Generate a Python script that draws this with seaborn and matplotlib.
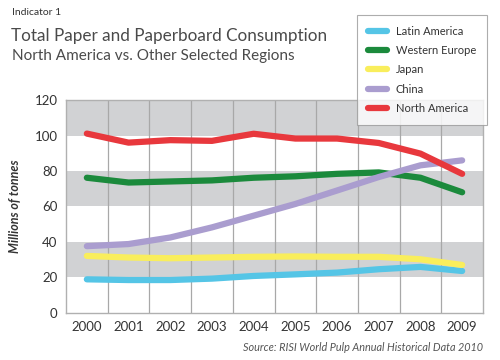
import pandas as pd
import numpy as np
import matplotlib
matplotlib.use("Agg")
import matplotlib.pyplot as plt
import seaborn as sns

years = [2000, 2001, 2002, 2003, 2004, 2005, 2006, 2007, 2008, 2009]
latin_america = [18.9, 18.5, 18.5, 19.3, 20.8, 21.7, 22.7, 24.6, 25.9, 23.6]
western_europe = [76.2, 73.5, 74.1, 74.7, 76.2, 77.0, 78.4, 79.2, 76.2, 68.0]
japan = [32.1, 31.2, 30.8, 31.2, 31.6, 31.8, 31.6, 31.6, 30.2, 27.0]
china = [37.6, 38.8, 42.5, 48.2, 54.8, 61.4, 69.0, 76.6, 83.2, 86.0]
north_america = [101.1, 96.0, 97.4, 97.0, 101.0, 98.3, 98.3, 95.8, 89.8, 78.4]

regions = ["Latin America", "Western Europe", "Japan", "China", "North America"]
colors = ["#55c5e6", "#1b8a3c", "#f9ee5c", "#aa9dcf", "#e8383d"]
yticks = [0, 20, 40, 60, 80, 100, 120]

df = pd.DataFrame({"Year": years, "Latin America": latin_america,
                   "Western Europe": western_europe, "Japan": japan,
                   "China": china, "North America": north_america})
long_df = df.melt(id_vars="Year", var_name="Region", value_name="Value")

sns.set_style("white")
plt.rcParams["font.family"] = ["Lato", "DejaVu Sans"]
txt = "#4a4a4a"

fig = plt.figure(figsize=(5, 3.6), dpi=100)
ax = fig.add_axes([0.132, 0.131, 0.834, 0.591])

# grey bands
for lo in [20, 60, 100]:
    ax.axhspan(lo, lo + 20, color="#d1d2d4", zorder=0, lw=0)
for k in range(1, 10):
    ax.axvline(years[0] - 0.5 + k, color="#a8a8a8", lw=0.9, zorder=1)

sns.lineplot(data=long_df, x="Year", y="Value", hue="Region", hue_order=regions,
             palette=colors, lw=4.5, ax=ax, zorder=3, solid_capstyle="round")

ax.set_xlim(years[0] - 0.5, years[-1] + 0.5)
ax.set_ylim(0, 120)
ax.set_xticks(years)
ax.set_yticks(yticks)
ax.tick_params(axis="both", length=0, labelsize=9.5, labelcolor="#333333", pad=6)
for s in ax.spines.values():
    s.set_color("#b0b0b0")
    s.set_linewidth(1)
ax.set_xlabel("")
ax.set_ylabel("Millions of tonnes", fontsize=9, fontstyle="italic", fontweight="bold",
              color="#333333", labelpad=10)

leg = ax.legend(loc="upper left", bbox_to_anchor=(0.703, 0.975), bbox_transform=fig.transFigure,
                frameon=True, fontsize=8, handlelength=1.7, labelspacing=0.75,
                borderpad=1.0, fancybox=False)
leg.get_frame().set_edgecolor("#999999")
leg.get_frame().set_linewidth(0.8)
for t in leg.get_texts():
    t.set_color("#333333")
leg.set_zorder(5)

fig.text(0.024, 0.965, "Indicator 1", fontsize=7.5, color="#333333", va="center")
fig.text(0.022, 0.9, "Total Paper and Paperboard Consumption", fontsize=12.3, color=txt, va="center")
fig.text(0.024, 0.845, "North America vs. Other Selected Regions", fontsize=11, color=txt, va="center")
fig.text(0.966, 0.035, "Source: RISI World Pulp Annual Historical Data 2010", fontsize=7.8,
         fontstyle="italic", color="#555555", ha="right", va="center")

fig.savefig("out.png", dpi=100)
